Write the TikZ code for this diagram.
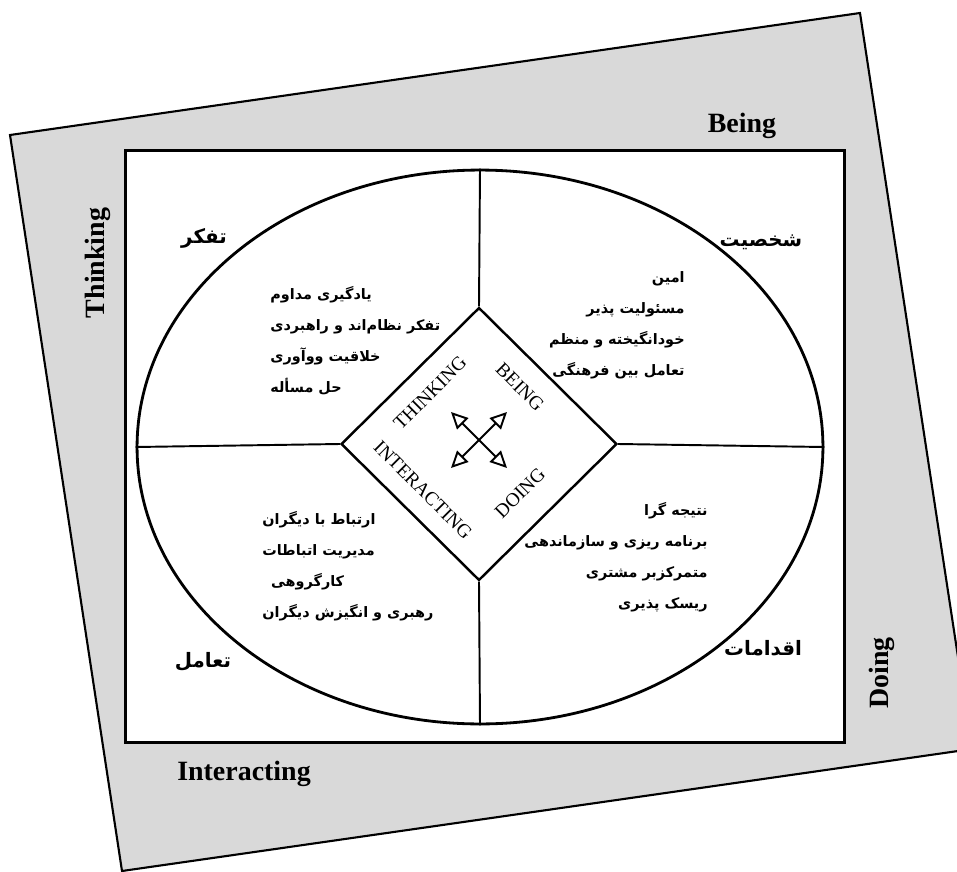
\documentclass[tikz,border=0pt]{standalone}
\usepackage{fontspec}
\setmainfont{Liberation Serif}
\newfontfamily\persian[Script=Arabic]{DejaVu Sans}
\TeXXeTstate=1
\newcommand{\fa}[1]{\beginR #1\endR}
\usetikzlibrary{arrows.meta,shapes.geometric}

\begin{document}
\begin{tikzpicture}[
    x=0.02cm, y=-0.02cm,
    side/.style={font=\fontsize{15.9}{18}\selectfont\bfseries, inner sep=0pt},
    tag/.style={font=\fontsize{11}{13}\selectfont, inner sep=0pt},
    title/.style={font=\persian\bfseries\fontsize{11.3}{14}\selectfont, inner sep=0pt},
    items/.style={font=\persian\bfseries\fontsize{8.2}{17.6}\selectfont, inner sep=0pt},
    divider/.style={line width=1.1pt},
    arrow/.style={{Triangle[open,length=9.5pt,width=9pt]}-{Triangle[open,length=9.5pt,width=9pt]}, line width=1.1pt}
  ]
  \useasboundingbox (0,0) rectangle (957,872);
  % tilted gray sheet behind
  \begin{scope}
    \clip (0,0) rectangle (957,872);
    \draw[line width=1.2pt, fill=black!15] (10,135) -- (860,13) -- (972,749) -- (122,871) -- cycle;
  \end{scope}
  \node[draw, line width=1.7pt, fill=white, minimum width=14.4cm, minimum height=11.86cm, inner sep=0pt] (frame) at (485,446.5) {};
  \node[draw, ellipse, line width=1.6pt, minimum width=13.72cm, minimum height=11.08cm, inner sep=0pt] (ell) at (480,447) {};
  \node[draw, diamond, line width=1.4pt, fill=white, minimum width=5.52cm, minimum height=5.46cm, inner sep=0pt] (dia) at (479,444) {};
  \foreach \a in {north,south,east,west} \draw[divider] (ell.\a) -- (dia.\a);

  % crossed arrows in the middle
  \coordinate (nw) at (451,412);
  \coordinate (ne) at (507,412);
  \coordinate (sw) at (451,468);
  \coordinate (se) at (507,468);
  \draw[arrow] (nw) -- (se);
  \draw[arrow] (sw) -- (ne);

  \node[tag, rotate=45] (tThink) at (430,393) {THINKING};
  \node[tag, rotate=-45] (tBeing) at (520,387) {BEING};
  \node[tag, rotate=-45] (tInter) at (423,490) {INTERACTING};
  \node[tag, rotate=45] (tDoing) at (520,493) {DOING};

  % quadrant titles
  \node[title] (hThink) at (204,238) {\fa{تفکر}};
  \node[title] (hBeing) at (761,242) {\fa{شخصیت}};
  \node[title] (hInter) at (203,662) {\fa{تعامل}};
  \node[title] (hDoing) at (763,648) {\fa{اقدامات}};

  % quadrant lists
  \node[items, align=left, anchor=west] (lThink) at (270,341) {\fa{یادگیری مداوم}\\\fa{تفکر نظام‌اند و راهبردی}\\\fa{خلاقیت ووآوری}\\\fa{حل مسأله}};
  \node[items, align=right, anchor=east] (lBeing) at (685,325) {\fa{امین}\\\fa{مسئولیت پذیر}\\\fa{خودانگیخته و منظم}\\\fa{تعامل بین فرهنگی}};
  \node[items, align=left, anchor=west] (lInter) at (262,566) {\fa{ارتباط با دیگران}\\\fa{مدیریت اتباطات}\\\hspace{5pt}\fa{کارگروهی}\\\fa{رهبری و انگیزش دیگران}};
  \node[items, align=right, anchor=east] (lDoing) at (708,557) {\fa{نتیجه گرا}\\\fa{برنامه ریزی و سازماندهی}\\\fa{متمرکزبر مشتری}\\\fa{ریسک پذیری}};

  % labels on the gray sheet
  \node[side] (sBeing) at (742,126) {Being};
  \node[side, rotate=90] (sThink) at (98,263) {Thinking};
  \node[side, rotate=90] (sDoing) at (882,673) {Doing};
  \node[side] (sInter) at (244,774) {Interacting};
\end{tikzpicture}
\end{document}
